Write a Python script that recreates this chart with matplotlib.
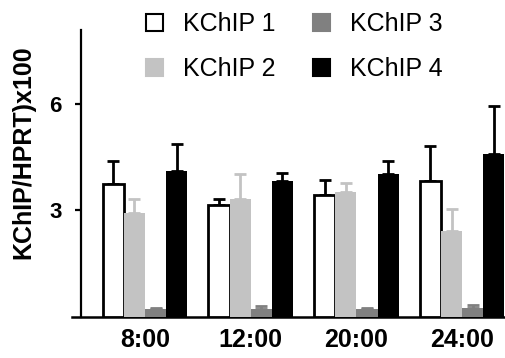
import numpy as np
import matplotlib
matplotlib.use('Agg')
import matplotlib.pyplot as plt
from matplotlib.patches import Patch

plt.rcParams['font.family'] = ['Liberation Sans', 'DejaVu Sans']

times = ['8:00', '12:00', '20:00', '24:00']
labels = ['KChIP 1', 'KChIP 2', 'KChIP 3', 'KChIP 4']

kchip1 = [3.74, 3.16, 3.44, 3.82]
kchip2 = [2.92, 3.32, 3.53, 2.43]
kchip3 = [0.23, 0.22, 0.23, 0.25]
kchip4 = [4.11, 3.83, 4.03, 4.60]

err1 = [0.66, 0.16, 0.41, 1.00]
err2 = [0.39, 0.72, 0.25, 0.62]
err3 = [0.03, 0.08, 0.02, 0.09]
err4 = [0.76, 0.22, 0.37, 1.34]

means = [kchip1, kchip2, kchip3, kchip4]
errs = [err1, err2, err3, err4]
faces = ['white', '#c3c3c3', '#808080', 'black']
edges = ['black', 'none', 'none', 'none']
ecolors = ['black', '#c3c3c3', '#808080', 'black']

W, H = 506, 358
fig = plt.figure(figsize=(W / 100, H / 100), dpi=100)
ax = fig.add_axes([72 / W, 41 / H, 434 / W, 287 / H])

x = np.arange(len(times))
width = 0.2
offsets = [-0.3, -0.1, 0.1, 0.3]

for i in range(4):
    xs = x + offsets[i]
    ax.bar(xs, means[i], width=width, color=faces[i], edgecolor=edges[i],
           linewidth=2.0 if edges[i] != 'none' else 0, zorder=3)
    ax.errorbar(xs, means[i], yerr=[np.zeros(4), errs[i]], fmt='none',
                ecolor=ecolors[i], elinewidth=2.0, capsize=4, capthick=2.0,
                zorder=2)

ax.set_xlim(-0.69, 3.415)
ax.set_ylim(0, 8.08)

ax.spines['top'].set_visible(False)
ax.spines['right'].set_visible(False)
ax.spines['left'].set_position(('data', -0.605))
ax.spines['left'].set_linewidth(1.6)
ax.spines['bottom'].set_linewidth(1.8)

ax.set_yticks([3, 6])
ax.set_yticklabels(['3', '6'], fontsize=16, fontweight='bold')
ax.tick_params(axis='y', direction='out', length=4, width=1.6, pad=10)
ax.set_xticks(x)
ax.set_xticklabels(times, fontsize=18, fontweight='bold')
ax.tick_params(axis='x', length=0, pad=8)

fig.text(23 / W, 1 - 152 / H, 'KChIP/HPRT)x100', rotation=90, fontsize=18,
         fontweight='bold', ha='center', va='center')

handles = [Patch(facecolor=faces[i], edgecolor='black' if i == 0 else faces[i],
                 linewidth=1.5) for i in range(4)]
fig.legend(handles, labels, loc='upper left', bbox_to_anchor=(146 / W, 1 - 12 / H),
           ncol=2, frameon=False, fontsize=18, handlelength=0.68,
           handleheight=0.68, handletextpad=0.8, columnspacing=1.5,
           labelspacing=0.85, borderpad=0, borderaxespad=0)

fig.savefig('out.png', dpi=100)
